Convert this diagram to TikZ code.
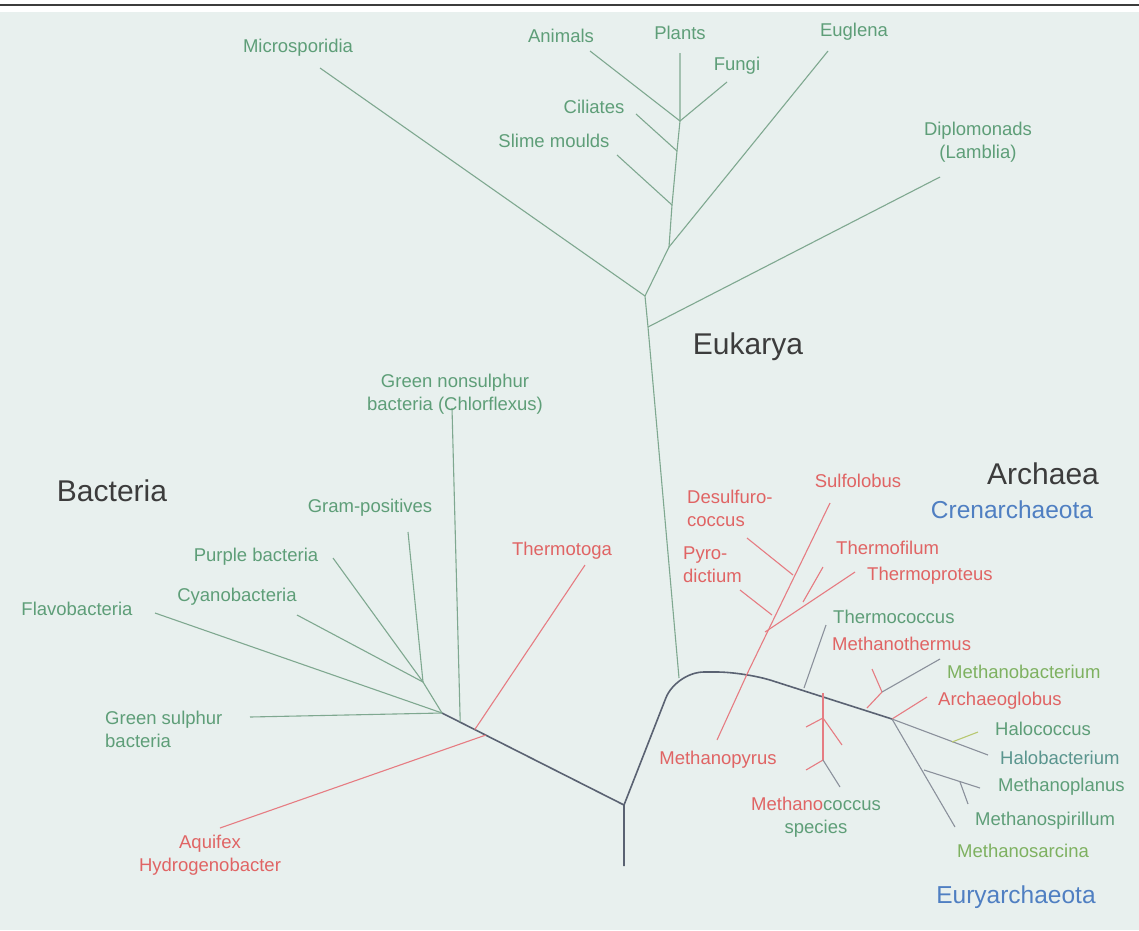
\documentclass[tikz,border=0pt]{standalone}
\usepackage{fontspec}
\setmainfont{Liberation Sans}
\usetikzlibrary{calc}
\definecolor{bgcol}{HTML}{E8F0EE}
\definecolor{labgreen}{HTML}{5E9E78}
\definecolor{labred}{HTML}{E06464}
\definecolor{labblue}{HTML}{4F7FC2}
\definecolor{labdark}{HTML}{3C3C3C}
\definecolor{linegreen}{HTML}{7FA890}
\definecolor{linered}{HTML}{E67C82}
\definecolor{linetrunk}{HTML}{5A6272}
\definecolor{lineyellow}{HTML}{B8C870}

\begin{document}
\begin{tikzpicture}[x=1pt, y=-1pt,
  every node/.style={inner sep=0pt, font=\fontsize{18.5}{23}\selectfont},
  grn/.style={text=labgreen, align=center},
  red/.style={text=labred, align=center},
  big/.style={text=labdark, font=\fontsize{30}{34}\selectfont},
  sub/.style={text=labblue, font=\fontsize{24.5}{28}\selectfont},
  gline/.style={draw=linegreen, line width=1.1pt},
  rline/.style={draw=linered, line width=1.1pt},
  tline/.style={draw=linetrunk, line width=1.6pt}]
\fill[bgcol] (0,0) rectangle (1139,930);
\useasboundingbox (0,0) rectangle (1139,930);
\fill[white] (0,0) rectangle (1139,12);
\draw[labdark, line width=1.5pt] (0,5) -- (1139,5);

% junctions
\coordinate (root) at (624,805);
\coordinate (rootend) at (624,866);
\coordinate (bac) at (442,713);
\coordinate (bacgn) at ($(bac)!0.10!(root)$);
\coordinate (bacth) at ($(bac)!0.18!(root)$);
\coordinate (bacaq) at ($(bac)!0.24!(root)$);
\coordinate (bacup) at (423,682);
\coordinate (euk) at (679,678);
\coordinate (eukdi) at (648,327);
\coordinate (eukmi) at (645,296);
\coordinate (eukeu) at (669,247);
\coordinate (eukss) at (672,205);
\coordinate (eukci) at (677,151);
\coordinate (eukan) at (680,121);
\coordinate (arc) at (892,719);
\coordinate (crenb) at (748,672);
\coordinate (crpy) at (772,615);
\coordinate (crde) at (793,575);
\coordinate (crth) at (765,632);
\coordinate (crtf) at (803,602);
\coordinate (arctc) at (804,688);
\coordinate (arcmc) at (823,693);
\coordinate (mc1) at (823,718);
\coordinate (mc2) at (823,760);
\coordinate (arcmb) at (867,708);
\coordinate (mb1) at (882,692);
\coordinate (halo) at (952,742);
\coordinate (msp) at (924,770);
\coordinate (msp1) at (960,782);

% leaf ends
\coordinate (eFlavo) at (155,613);
\coordinate (eGsul) at (250,717);
\coordinate (eCyano) at (297,615);
\coordinate (ePurple) at (333,558);
\coordinate (eGram) at (408,532);
\coordinate (eGnon) at (452,408);
\coordinate (eThermotoga) at (585,565);
\coordinate (eAquifex) at (220,828);
\coordinate (eMicro) at (320,68);
\coordinate (eDiplo) at (940,177);
\coordinate (eEuglena) at (828,51);
\coordinate (eSlime) at (617,155);
\coordinate (eCiliates) at (636,114);
\coordinate (eAnimals) at (590,51);
\coordinate (ePlants) at (680,53);
\coordinate (eFungi) at (727,82);
\coordinate (eMpyrus) at (717,740);
\coordinate (eSulfo) at (830,503);
\coordinate (ePyro) at (740,590);
\coordinate (eDesulf) at (747,538);
\coordinate (eTprot) at (855,572);
\coordinate (eTfil) at (823,567);
\coordinate (eTcocc) at (826,625);
\coordinate (eMtherm) at (872,669);
\coordinate (eMbact) at (940,659);
\coordinate (eArchaeo) at (927,697);
\coordinate (eHalob) at (988,755);
\coordinate (eHaloc) at (978,732);
\coordinate (eMsarc) at (955,827);
\coordinate (eMplan) at (980,788);
\coordinate (eMspir) at (968,804);
\coordinate (eMc1) at (806,727);
\coordinate (eMc2) at (842,745);
\coordinate (eMc3) at (806,770);
\coordinate (eMc4) at (840,787);

% trunks
\draw[tline] (rootend) -- (root) -- (bac);
\draw[tline, rounded corners=28pt] (root) -- (676,672) -- (745,672) -- (arc);

% bacteria
\draw[gline] (bac) -- (eGsul);
\draw[gline] (bac) -- (eFlavo);
\draw[gline] (bac) -- (bacup);
\draw[gline] (bacup) -- (eCyano);
\draw[gline] (bacup) -- (ePurple);
\draw[gline] (bacup) -- (eGram);
\draw[gline] (bacgn) -- (eGnon);
\draw[rline] (bacth) -- (eThermotoga);
\draw[rline] (bacaq) -- (eAquifex);

% eukarya
\draw[gline] (euk) -- (eukdi) -- (eukmi) -- (eukeu) -- (eukss) -- (eukci) -- (eukan) -- (ePlants);
\draw[gline] (eukdi) -- (eDiplo);
\draw[gline] (eukmi) -- (eMicro);
\draw[gline] (eukeu) -- (eEuglena);
\draw[gline] (eukss) -- (eSlime);
\draw[gline] (eukci) -- (eCiliates);
\draw[gline] (eukan) -- (eAnimals);
\draw[gline] (eukan) -- (eFungi);

% archaea
\draw[rline] (crenb) -- (eMpyrus);
\draw[rline] (crenb) -- (eSulfo);
\draw[rline] (crpy) -- (ePyro);
\draw[rline] (crde) -- (eDesulf);
\draw[rline] (crth) -- (eTprot);
\draw[rline] (crtf) -- (eTfil);
\draw[gline, draw=linetrunk!70] (arctc) -- (eTcocc);
\draw[rline] (arcmc) -- (mc2);
\draw[rline] (mc1) -- (eMc1);
\draw[rline] (mc1) -- (eMc2);
\draw[rline] (mc2) -- (eMc3);
\draw[gline, draw=linetrunk!70] (mc2) -- (eMc4);
\draw[rline] (arcmb) -- (mb1);
\draw[rline] (mb1) -- (eMtherm);
\draw[gline, draw=linetrunk!70] (mb1) -- (eMbact);
\draw[rline] (arc) -- (eArchaeo);
\draw[gline, draw=linetrunk!70] (arc) -- (eHalob);
\draw[gline, draw=lineyellow] (halo) -- (eHaloc);
\draw[gline, draw=linetrunk!70] (arc) -- (eMsarc);
\draw[gline, draw=linetrunk!70] (msp) -- (eMplan);
\draw[gline, draw=linetrunk!70] (msp1) -- (eMspir);

% labels
\node[big] (tBacteria) at (112,491) {Bacteria};
\node[big] (tEukarya) at (748,347) {Eukarya};
\node[big] (tArchaea) at (1043,474) {Archaea};
\node[sub] (tCren) at (1012,510) {Crenarchaeota};
\node[sub] (tEury) at (1016,897) {Euryarchaeota};

\node[grn] (lFlavo) at (77,609) {Flavobacteria};
\node[grn, align=left, anchor=west] (lGsul) at (105,729) {Green sulphur\\bacteria};
\node[grn] (lCyano) at (237,597) {Cyanobacteria};
\node[grn] (lPurple) at (256,557) {Purple bacteria};
\node[grn] (lGram) at (370,508) {Gram-positives};
\node[grn] (lGnon) at (455,394) {Green nonsulphur\\bacteria (Chlorflexus)};
\node[red] (lThermotoga) at (562,551) {Thermotoga};
\node[red] (lAquifex) at (210,855) {Aquifex\\Hydrogenobacter};

\node[grn] (lMicro) at (298,48) {Microsporidia};
\node[grn] (lAnimals) at (561,36) {Animals};
\node[grn] (lPlants) at (680,33) {Plants};
\node[grn] (lFungi) at (737,66) {Fungi};
\node[grn] (lEuglena) at (854,32) {Euglena};
\node[grn] (lCiliates) at (594,107) {Ciliates};
\node[grn] (lSlime) at (554,141) {Slime moulds};
\node[grn] (lDiplo) at (978,142) {Diplomonads\\(Lamblia)};

\node[red] (lSulfo) at (858,481) {Sulfolobus};
\node[red, align=left, anchor=west] (lDesulf) at (687,508) {Desulfuro-\\coccus};
\node[red, align=left, anchor=west] (lPyro) at (683,565) {Pyro-\\dictium};
\node[red, anchor=west] (lTfil) at (836,548) {Thermofilum};
\node[red, anchor=west] (lTprot) at (867,576) {Thermoproteus};
\node[grn, anchor=west] (lTcocc) at (833,617) {Thermococcus};
\node[red, anchor=west] (lMtherm) at (832,644) {Methanothermus};
\node[grn, text=labgreen!80!yellow, anchor=west] (lMbact) at (947,672) {Methanobacterium};
\node[red, anchor=west] (lArchaeo) at (938,701) {Archaeoglobus};
\node[grn, anchor=west] (lHaloc) at (995,729) {Halococcus};
\node[grn, text=labgreen!70!labblue, anchor=west] (lHalob) at (1000,758) {Halobacterium};
\node[grn, anchor=west] (lMplan) at (998,787) {Methanoplanus};
\node[grn, anchor=west] (lMspir) at (975,821) {Methanospirillum};
\node[grn, text=labgreen!80!yellow, anchor=west] (lMsarc) at (957,851) {Methanosarcina};
\node[red] (lMpyrus) at (718,760) {Methanopyrus};
\node[grn] (lMcocc) at (816,817) {\textcolor{labred}{Methano}coccus\\species};
\end{tikzpicture}
\end{document}
